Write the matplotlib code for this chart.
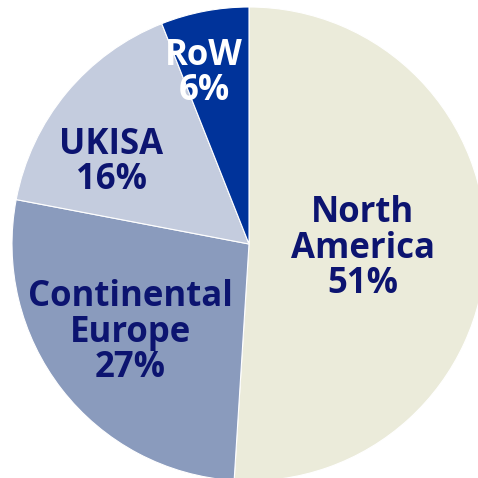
import matplotlib.pyplot as plt

# regional split
regions = ['North America', 'Continental Europe', 'UKISA', 'RoW']
shares = [51, 27, 16, 6]
labels = ['North\nAmerica\n51%', 'Continental\nEurope\n27%', 'UKISA\n16%', 'RoW\n6%']
colors = ['#EBEBDA', '#8A9BBD', '#C4CCDE', '#00339A']
text_colors = ['#0C1470', '#0C1470', '#0C1470', 'white']
label_pos = [(0.48, -0.02), (-0.50, -0.375), (-0.58, 0.345), (-0.19, 0.72)]

fig = plt.figure(figsize=(4.78, 4.78), dpi=100)
ax = fig.add_axes([12 / 478, -3 / 478, 474 / 478, 474 / 478])
ax.pie(shares, colors=colors, startangle=90, counterclock=False,
       wedgeprops=dict(edgecolor='white', linewidth=0.8))
ax.set_xlim(-1, 1)
ax.set_ylim(-1, 1)
ax.set_aspect('equal')
ax.axis('off')

for lab, (x, y), c in zip(labels, label_pos, text_colors):
    ax.text(x, y, lab, ha='center', va='center', color=c, fontsize=25,
            fontweight='bold', linespacing=0.98,
            family=['Open Sans', 'DejaVu Sans'])

fig.savefig('out.png', dpi=100)
